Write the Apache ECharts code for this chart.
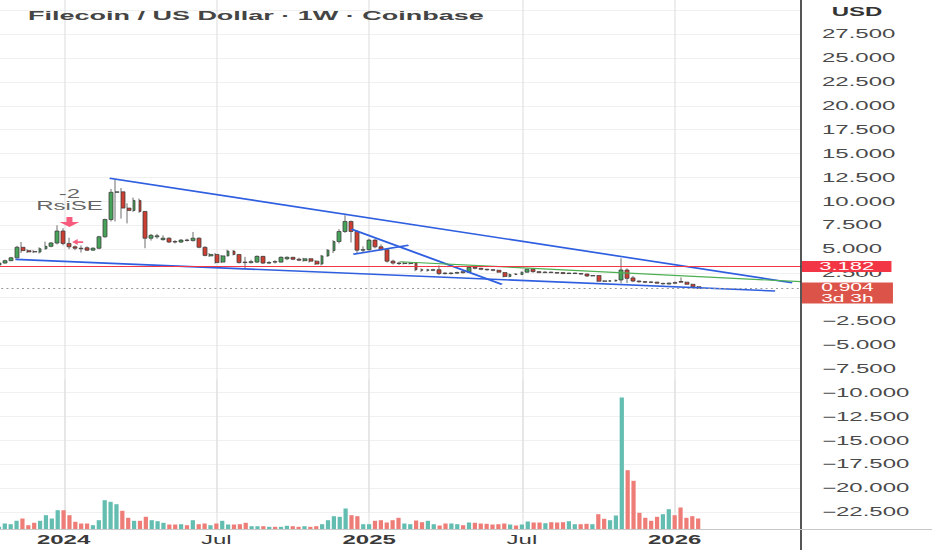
<!DOCTYPE html>
<html><head><meta charset="utf-8">
<script src="https://cdn.jsdelivr.net/npm/echarts@6/dist/echarts.min.js"></script>
<style>
html,body{margin:0;padding:0;background:#fff;overflow:hidden;}
#c{width:466px;height:550px;transform:scaleX(2);transform-origin:0 0;}
</style></head><body><div id="c"></div>
<script>
// ---- data (weekly candles, FIL/USD, Coinbase) ----
const firstWeek = '2023-10-16';
const weekCount = 137;
const opens = [
3.35,3.55,3.8,4.1,5.2,4.85,4.75,4.7,5.05,5.3,5.65,
6.9,5.6,5.25,5.1,5.15,4.9,5.1,6.3,8.1,10.95,
11.0,9.3,9.05,10.1,8.95,6.15,6.3,6.0,6.15,5.8,
5.75,5.95,5.9,6.15,5.2,4.3,4.45,3.65,4.3,4.8,
4.45,3.65,3.6,3.65,4.25,3.55,3.7,3.65,4.0,4.15,
3.95,3.8,4.0,3.75,3.45,4.3,4.85,5.8,6.85,7.9,
6.85,4.9,4.95,5.95,5.25,4.95,3.75,3.55,3.5,3.5,
3.6,2.85,2.78,2.8,2.85,2.5,2.45,2.5,2.65,2.6,
3.1,3.0,2.9,2.85,2.8,2.55,2.15,2.4,2.35,2.6,
2.9,2.65,2.55,2.6,2.55,2.55,2.45,2.45,2.45,2.4,
2.2,2.25,1.68,1.65,1.68,1.78,2.82,2.0,1.67,1.6,
1.56,1.55,1.38,1.36,1.5,1.62,1.55,1.33,1.08];
const closes = [
3.55,3.8,4.1,5.2,4.85,4.72,4.72,5.05,5.3,5.65,6.9,
5.6,5.25,5.1,5.05,4.9,5.1,6.3,8.1,10.95,11.0,
9.3,9.05,10.1,8.95,6.15,6.45,6.4,6.15,5.75,5.75,
5.95,5.92,6.15,5.2,4.35,4.45,3.6,4.3,4.8,4.45,
3.6,3.6,3.7,4.25,3.55,3.6,3.65,4.15,4.15,3.95,
3.85,4.0,3.75,3.45,4.3,4.9,5.8,6.85,7.9,6.85,
4.9,4.95,5.95,5.25,4.95,3.75,3.55,3.5,3.55,3.55,
2.85,2.8,2.85,2.85,2.45,2.45,2.5,2.55,2.55,3.1,
3.0,2.9,2.85,2.8,2.6,2.15,2.35,2.35,2.6,2.9,
2.65,2.55,2.6,2.55,2.5,2.45,2.5,2.5,2.4,2.2,
2.25,1.65,1.65,1.7,1.75,2.82,1.95,1.67,1.6,1.55,
1.54,1.45,1.42,1.45,1.45,1.55,1.33,1.08,0.904];
const lows = [
3.28,3.5,3.75,4.05,4.6,4.6,4.6,4.55,4.95,5.2,5.5,
5.4,5.0,4.9,4.65,4.8,4.85,5.0,6.2,7.9,7.9,
8.2,7.7,8.9,8.8,5.1,5.9,6.1,5.9,5.65,5.6,
5.65,5.8,5.8,5.1,4.25,4.2,3.5,3.55,4.25,4.35,
3.5,3.0,3.5,3.55,3.45,3.45,3.5,3.6,3.85,3.85,
3.75,3.7,3.6,3.35,3.3,4.2,4.6,5.6,6.7,5.7,
4.5,4.6,4.85,5.1,4.9,3.6,3.4,3.35,3.4,3.4,
2.7,2.6,2.65,2.7,2.3,2.35,2.35,2.4,2.45,2.55,
2.9,2.8,2.75,2.7,2.55,2.05,2.05,2.3,2.3,2.55,
2.55,2.5,2.5,2.5,2.45,2.4,2.4,2.4,2.35,2.1,
2.15,1.6,1.55,1.6,1.6,1.43,1.45,1.55,1.5,1.48,
1.45,1.4,1.3,1.3,1.4,1.5,1.3,1.05,0.88];
const highs = [
3.62,3.9,4.2,5.35,5.75,5.0,4.9,5.2,5.8,5.75,7.5,
7.2,6.2,5.4,5.4,5.3,5.2,6.4,8.2,11.3,12.3,
11.4,9.8,10.4,10.3,9.0,6.6,6.6,6.45,6.25,5.95,
6.05,6.1,6.8,6.25,5.3,4.6,4.6,4.4,4.95,4.9,
4.5,4.2,3.9,4.35,4.3,3.75,3.85,4.25,4.25,4.2,
4.1,4.1,4.05,3.85,4.4,5.0,5.95,7.1,8.55,8.0,
7.0,5.3,6.1,6.05,5.5,5.0,3.9,3.7,3.7,3.65,
3.65,3.0,2.95,2.95,3.3,2.6,2.6,2.65,2.7,3.2,
3.2,3.05,2.95,2.9,2.85,2.6,2.45,2.5,2.65,2.95,
2.95,2.7,2.7,2.65,2.6,2.6,2.55,2.55,2.5,2.45,
2.3,2.3,1.75,1.78,1.82,4.05,3.0,2.2,1.72,1.68,
1.65,1.6,1.5,1.52,1.62,2.05,1.6,1.38,1.12];
const volumes = [
2.7,6,5.3,8.7,11,4.3,6.7,8.7,14.3,11,19.3,
19.3,14.3,7.7,6,6,4.3,9.3,29.3,27.7,25.3,
18.7,11.7,8.7,8.7,12.7,9.3,8.3,6.7,5,5,
5.3,4.3,9.3,5.3,6,4.3,6,8.7,5,5,
5.3,6.7,3.3,3.3,3.3,2.7,2.7,2.7,3.7,3.3,
2.7,3.3,2.7,3.3,5.3,9.3,13.3,12.7,21,14.3,
13.3,5.3,5.3,8.7,9.3,7,9.3,11.7,6,5.3,
9,7.3,8.7,5.3,4,6,6,5.3,4.3,7,
6.7,6,5.7,5,5.3,6,5,4,5,8,
7,7,6.3,7.3,7,7.3,8.3,5.3,5.3,5.7,
5.3,15.3,10.7,9.3,14,132,59.3,48.7,16.7,11.7,
8.7,12.7,15.3,20.3,14.3,22,11.7,13.3,11];
const tickWeeks = ['2024-01-01','2024-07-01','2024-12-30','2025-06-30','2025-12-29'];
const tickNames = ['2024','Jul','2025','Jul','2026'];
const yearNames = ['2024','2025','2026'];
const resistanceLevel = 3.182;
const lastPrice = 0.904;
const countdown = '3d 3h';
// drawn trend lines: [week index, price]
const upperTrend = [[18.84,12.42],[135.0,1.5]];
const lowerTrend = [[2.8,3.94],[132.1,0.63]];
const greenTrend = [[68.2,3.69],[136.5,1.6]];
const wedgeTop = [[60.0,7.09],[85.6,1.33]];
const wedgeBottom = [[60.3,4.48],[69.7,5.41]];
// strategy signal marks: [week index, price]
const arrowDown = [12, 7.85];
const arrowLeft = [13.4, 5.75];
const signalTexts = [[12, 10.82, '-2'], [12, 9.5, 'RsiSE']];

// ---- build ----
const FONT = 'Liberation Sans, Arial, sans-serif';
const UP = '#47a35a', DOWN = '#cc3f33', WICK = '#3c3c3c';
const VUP = '#63bdb0', VDOWN = '#ee7d78';
const weeks = [];
const d0 = new Date(firstWeek + 'T00:00:00Z');
for (let i = 0; i < weekCount; i++) {
  weeks.push(new Date(d0.getTime() + i * 7 * 86400000).toISOString().slice(0, 10));
}
const candleData = opens.map((o, j) => [o, closes[j], lows[j], highs[j]]);
const volData = volumes.map((v, j) => ({value: v, itemStyle: {color: closes[j] >= opens[j] ? VUP : VDOWN}}));
const isTick = (idx, val) => tickWeeks.indexOf(val) >= 0;
const trend = (data, color, width) => ({
  type: 'line', xAxisIndex: 1, yAxisIndex: 0, data: data, symbol: 'none', silent: true, z: 3,
  lineStyle: {color: color, width: width}
});

const chart = echarts.init(document.getElementById('c'), null, {renderer: 'svg', width: 466, height: 550});
chart.setOption({
  animation: false,
  backgroundColor: '#ffffff',
  title: {text: 'Filecoin / US Dollar · 1W · Coinbase', left: 9, top: 4,
    textStyle: {fontSize: 13.5, fontWeight: 'bold', color: '#444444', fontFamily: FONT}},
  grid: [
    {left: -2, right: 65.5, top: -13.7, bottom: 37.9, containLabel: false, outerBoundsMode: 'none'},
    {left: -2, right: 65.5, top: 379.5, bottom: 20.5, containLabel: false, outerBoundsMode: 'none'}
  ],
  xAxis: [
    {type: 'category', gridIndex: 0, data: weeks, boundaryGap: true,
      axisLine: {show: false}, axisTick: {show: false}, axisLabel: {show: false},
      splitLine: {show: true, interval: isTick, alignWithLabel: true, lineStyle: {color: '#e2e2e2', width: 0.6}}},
    {type: 'value', gridIndex: 0, min: -0.5, max: weekCount - 0.5, show: false},
    {type: 'category', gridIndex: 1, data: weeks, boundaryGap: true,
      axisLine: {show: false}, axisTick: {show: false},
      splitLine: {show: true, interval: isTick, alignWithLabel: true, lineStyle: {color: '#e2e2e2', width: 0.6}},
      axisLabel: {interval: isTick, margin: 4.5, fontFamily: FONT,
        formatter: v => { const j = tickWeeks.indexOf(v); if (j < 0) return '';
          const n = tickNames[j]; return yearNames.indexOf(n) >= 0 ? '{y|' + n + '}' : '{m|' + n + '}'; },
        rich: {y: {fontSize: 12, fontWeight: 'bold', color: '#3a3a3a', fontFamily: FONT},
               m: {fontSize: 12, color: '#3a3a3a', fontFamily: FONT}}}}
  ],
  yAxis: [
    {type: 'value', gridIndex: 0, position: 'right', min: -22.5, max: 32.5, interval: 2.5,
      axisLine: {show: false}, axisTick: {show: false},
      splitLine: {lineStyle: {color: '#f0f0f0', width: 1}},
      axisLabel: {margin: 10.5, fontSize: 12, color: '#4a4a4a', fontFamily: FONT, showMinLabel: true, showMaxLabel: false,
        // the 0 label sits under the last-price tag in the reference, so it is not drawn
        formatter: v => (v >= 29.9 || Math.abs(v) < 0.001) ? '' : (v < 0 ? '\u2212' : '') + Math.abs(v).toFixed(3)}},
    {type: 'value', gridIndex: 1, min: 0, max: 150, show: false}
  ],
  series: [
    {type: 'candlestick', xAxisIndex: 0, yAxisIndex: 0, data: candleData, barWidth: '80%',
      itemStyle: {color: UP, color0: DOWN, borderColor: WICK, borderColor0: WICK, borderWidth: 0.5},
      markLine: {symbol: ['none', 'none'], silent: true, animation: false, z: 5,
        data: [
          {yAxis: resistanceLevel, lineStyle: {color: '#f23645', width: 1, type: 'solid'},
            label: {show: true, position: 'end', distance: 0.5, formatter: resistanceLevel.toFixed(3),
              color: '#ffffff', backgroundColor: '#f23645', fontSize: 11, lineHeight: 10,
              padding: [1, 8.6, 0, 8.6], fontFamily: FONT}},
          {yAxis: lastPrice, lineStyle: {color: '#9a9a9a', width: 1, type: [1, 1.6]},
            label: {show: true, position: 'end', distance: 0.5, formatter: lastPrice.toFixed(3) + '\n' + countdown,
              color: '#ffffff', backgroundColor: '#dc5449', fontSize: 10.5, lineHeight: 10.5,
              padding: [0, 9.6, 0, 9.6], offset: [0, 4.5], fontFamily: FONT}}
        ]}},
    trend(upperTrend, '#2f5fe0', 1.6),
    trend(lowerTrend, '#2f5fe0', 1.6),
    trend(wedgeTop, '#2f5fe0', 1.6),
    trend(wedgeBottom, '#2f5fe0', 1.6),
    trend(greenTrend, '#4caf50', 1.2),
    {type: 'scatter', xAxisIndex: 1, yAxisIndex: 0, silent: true, z: 6,
      itemStyle: {color: '#f5335e'},
      data: [
        {value: arrowDown, symbol: 'path://M3.5,0L6.5,0L6.5,5L10,5L5,10L0,5L3.5,5Z', symbolSize: [10, 10]},
        {value: arrowLeft, symbol: 'path://M0,5L5,0L5,3.5L10,3.5L10,6.5L5,6.5L5,10Z', symbolSize: [5.5, 6]}
      ]},
    {type: 'scatter', xAxisIndex: 1, yAxisIndex: 0, silent: true, z: 6, symbolSize: 1,
      itemStyle: {color: 'rgba(0,0,0,0)'},
      label: {show: true, position: 'inside', formatter: p => p.data.name, fontSize: 12, color: '#3a3a3a', fontFamily: FONT},
      data: signalTexts.map(t => ({value: [t[0], t[1]], name: t[2]}))},
    {type: 'bar', xAxisIndex: 2, yAxisIndex: 1, data: volData, barWidth: '72%', silent: true}
  ],
  graphic: [
    {type: 'line', silent: true, z: 100, shape: {x1: 400.5, y1: 0, x2: 400.5, y2: 550}, style: {stroke: '#2b2b2b', lineWidth: 0.8}},
    {type: 'line', silent: true, z: 100, shape: {x1: 0, y1: 529.5, x2: 466, y2: 529.5}, style: {stroke: '#c8c8c8', lineWidth: 1}},
    {type: 'text', silent: true, z: 100, x: 428.5, y: 12,
      style: {text: 'USD', fill: '#333333', font: 'bold 12px "Liberation Sans", Arial, sans-serif', align: 'center', verticalAlign: 'middle'}}
  ]
});
</script></body></html>
